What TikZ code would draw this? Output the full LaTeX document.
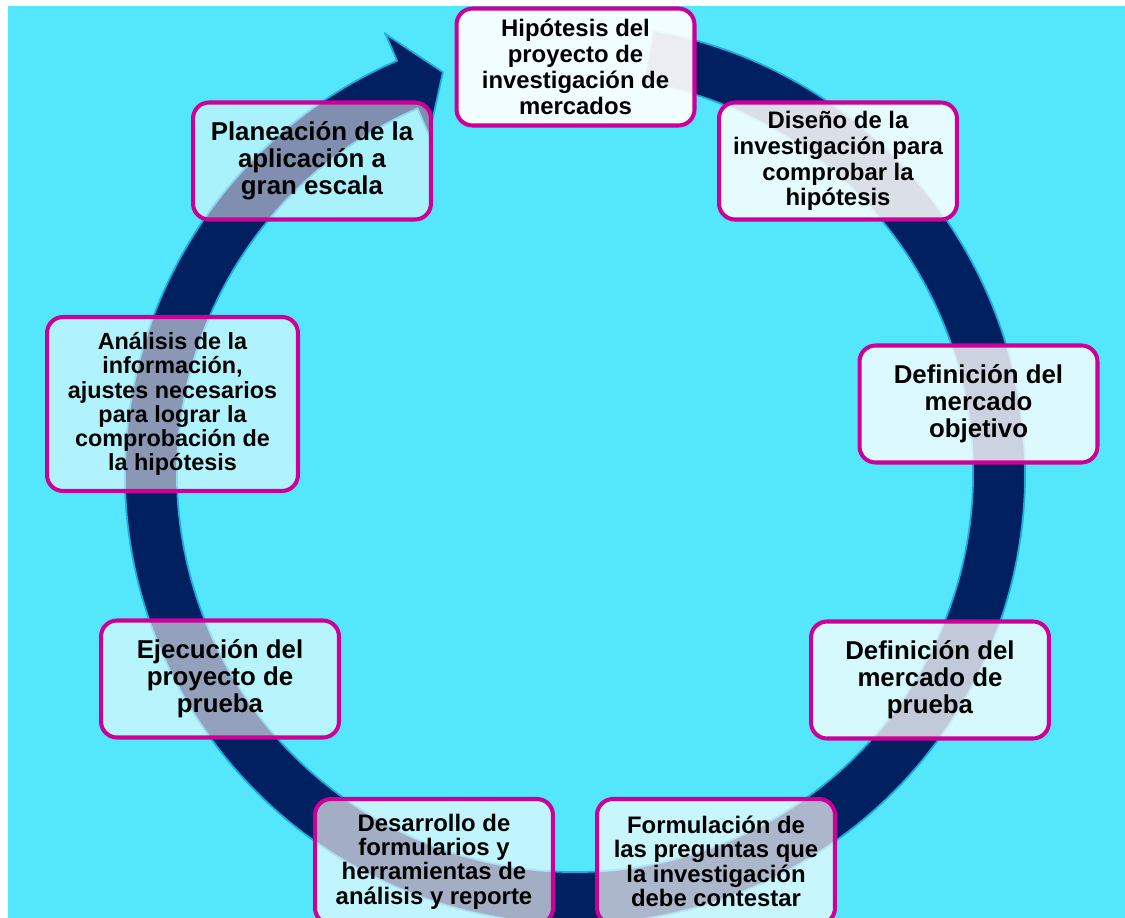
\documentclass[tikz,border=0pt]{standalone}
\usepackage{fontspec}
\setmainfont{Liberation Sans}
\definecolor{cyanbg}{RGB}{84,230,250}
\definecolor{ringnavy}{RGB}{0,32,96}
\definecolor{ringedge}{RGB}{30,170,230}
\definecolor{boxline}{RGB}{204,0,153}

\begin{document}
\begin{tikzpicture}[x=0.02cm, y=-0.02cm,
    stage/.style={draw=boxline, line width=2.3pt, fill=white, rounded corners=0.32cm,
      minimum width=4.76cm, minimum height=2.34cm, align=center, inner sep=0pt,
      text opacity=1},
    txtA/.style={font=\bfseries\fontsize{13.6pt}{14.7pt}\selectfont},
    txtB/.style={font=\bfseries\fontsize{14.7pt}{15.3pt}\selectfont},
    txtC/.style={font=\bfseries\fontsize{13.6pt}{13.9pt}\selectfont},
    txtD/.style={font=\bfseries\fontsize{13.3pt}{13.8pt}\selectfont}]

    \useasboundingbox (0,0) rectangle (1125,918);
    \clip (0,0) rectangle (1125,918);
    \fill[cyanbg] (8,6) rectangle (1125,918);

    % ring arrow, clockwise
    \begin{scope}[shift={(575,474)}, y=0.02cm]
        \filldraw[fill=ringnavy, draw=ringedge, line width=1pt]
            (80:450) arc[start angle=80, end angle=-246.7, radius=450]
            -- (-246.7:479) -- (-251.8:423) -- (-246.7:369) -- (-246.7:398)
            arc[start angle=-246.7, end angle=80, radius=398] -- cycle;
    \end{scope}

    % steps
    \node[stage, fill opacity=.92, txtA] (hyp) at (575.5,67) {Hipótesis del\\proyecto de\\investigación de\\mercados};
    \node[stage, fill opacity=.86, txtA] (dis) at (838,161) {Diseño de la\\investigación para\\comprobar la\\hipótesis};
    \node[stage, fill opacity=.8, txtB] (obj) at (978.5,404) {Definición del\\mercado\\objetivo};
    \node[stage, fill opacity=.76, txtB] (pru) at (930,680) {Definición del\\mercado de\\prueba};
    \node[stage, fill opacity=.68, txtC, minimum height=2.5cm] (frm) at (716,861.5) {Formulación de\\las preguntas que\\la investigación\\debe contestar};
    \node[stage, fill opacity=.64, txtC, minimum height=2.5cm] (des) at (434,861.5) {Desarrollo de\\formularios y\\herramientas de\\análisis y reporte};
    \node[stage, fill opacity=.58, txtB] (eje) at (220,679) {Ejecución del\\proyecto de\\prueba};
    \node[stage, fill opacity=.54, txtD, minimum width=5.02cm, minimum height=3.48cm] (ana) at (172.5,404) {Análisis de la\\información,\\ajustes necesarios\\para lograr la\\comprobación de\\la hipótesis};
    \node[stage, fill opacity=.5, txtB] (pla) at (312,161) {Planeación de la\\aplicación a\\gran escala};

\end{tikzpicture}
\end{document}
